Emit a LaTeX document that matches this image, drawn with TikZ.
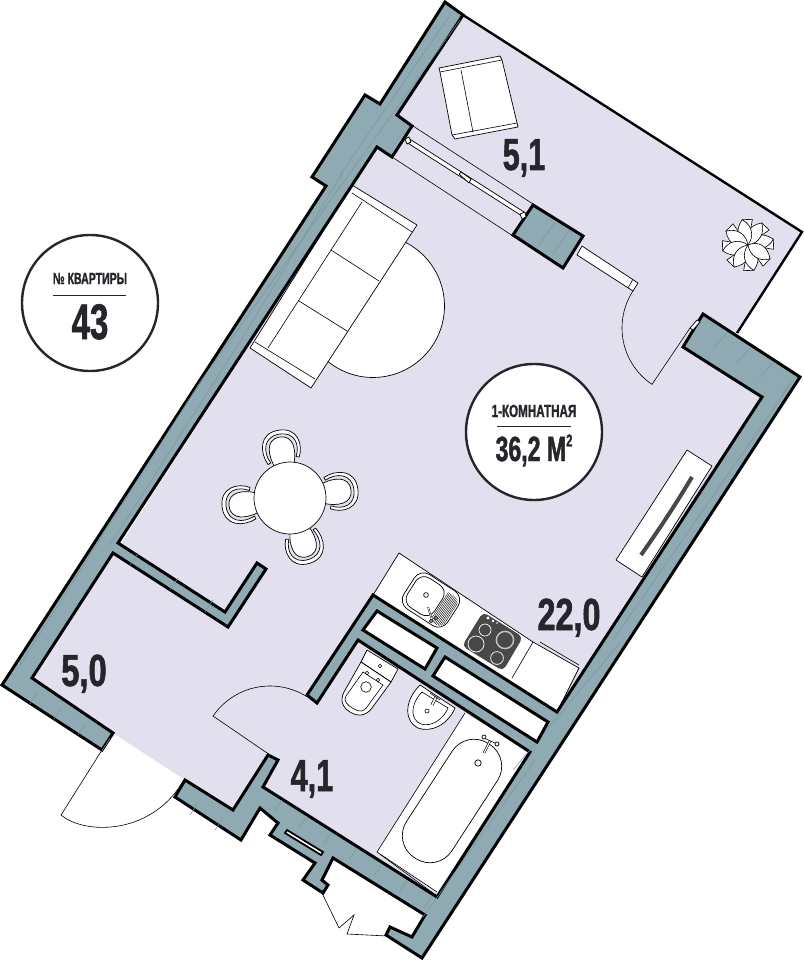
\documentclass[tikz,border=0pt]{standalone}
\usepackage{fontspec}
\setmainfont{Liberation Sans}
\newfontfamily\cond[FakeStretch=0.66,FakeBold=1.2]{Liberation Sans}
\definecolor{wallc}{HTML}{8FAAB2}
\definecolor{hatchc}{HTML}{7A959E}
\definecolor{lav}{HTML}{E2E0EE}
\definecolor{ink}{HTML}{25252B}
\definecolor{hob}{HTML}{484848}
\tikzset{
  wallshape/.style={fill=wallc,draw=black,line width=3pt,line join=miter,miter limit=3},
  hatchline/.style={draw=hatchc,line width=.5pt},
  thinline/.style={draw=black,line width=.6pt},
  whitething/.style={fill=white,draw=black,line width=.7pt,line join=round},
  areatext/.style={font=\cond\bfseries\fontsize{45}{45}\selectfont,text=ink,anchor=base,inner sep=0pt},
  badge/.style={circle,draw=ink,fill=white,line width=2.4pt,minimum size=136pt,inner sep=0pt},
  smalltext/.style={font=\cond\bfseries\fontsize{18}{18}\selectfont,text=ink,anchor=base,inner sep=0pt},
}
\begin{document}
\begin{tikzpicture}[x=1pt,y=-1pt]
\useasboundingbox (0,0) rectangle (803,960);
% floor
\fill[lav] (463,15)--(802,232)--(737,333)--(762,397)--(437,897)--(263,787)--(233,810)--(185,780)--(113,733)--(32,678)--(120,545)--(377,147)--cycle;
% balcony edge
\draw[line width=2.4pt,line join=miter] (463,15)--(802,232)--(737,333);
% rug
\draw[whitething] plot[domain=-64:129,samples=50] ({373+71.5*cos(\x)},{306+71.5*sin(\x)});
% sofa
\draw[whitething] (352,185)--(417,225)--(311,388)--(250,348)--cycle;
\draw[thinline] (352,193)--(412,232) (255,342)--(315,379) (362,202)--(268,348) (331,250)--(379,281) (299,301)--(347,331);
% armchair
\draw[whitething] (439,68)--(500,56)--(502,60)--(518,127)--(455,139)--(452,135)--(440,72)--cycle;
\draw[thinline] (440,72)--(502,60) (452,135)--(517,123) (461,70)--(473,132);
% plant
\foreach \a in {0,45,...,315}{
  \begin{scope}[shift={(748,245)},rotate=\a+13]
    \draw[fill=white,draw=black,line width=.6pt] (0,0)--(26,0)--(24,10)--cycle;
  \end{scope}
}
\foreach \a in {0,45,...,315}{
  \begin{scope}[shift={(748,245)},rotate=\a+13]
    \draw[whitething,line width=.6pt] (0,0) .. controls (6,-9) and (17,-10) .. (26,0) .. controls (18,9) and (7,8) .. (0,0)--cycle;
  \end{scope}
}
% table and chairs
\foreach \cx/\cy/\rr in {281/446/10,342/491/-82,305/548/197,238/505/97}{
  \begin{scope}[shift={(\cx,\cy)},rotate=\rr]
    \draw[whitething] (-16,16) .. controls (-22,3) and (-20,-16) .. (0,-16) .. controls (20,-16) and (22,3) .. (16,14)--(13,13) .. controls (19,2) and (16,-12) .. (0,-12) .. controls (-16,-12) and (-19,3) .. (-13,15)--cycle;
    \draw[whitething] (-10,19) .. controls (-14,8) and (-15,-9) .. (0,-9) .. controls (15,-9) and (14,8) .. (10,19)--cycle;
  \end{scope}
}
\draw[whitething] (290,498) circle (36);
% wardrobe
\draw[whitething] (687,450)--(712,466)--(642,577)--(616,560)--cycle;
\draw[draw=hob,line width=4pt] (692,477) .. controls (674,507) and (660,528) .. (641,555);
% kitchen
\draw[whitething] (399,553)--(533,642)--(579,668)--(557,712)--(373,595)--cycle;
\draw[thinline] (533,642)--(512,678) (540,642)--(579,665);
\fill[hob,rounded corners=5pt] (483,612)--(523,637)--(503,671)--(462,646)--cycle;
\draw[white,line width=.7pt] (485,630) circle (6) (476,644) circle (8) (497,658) circle (6.4);
\draw[white!75!black,line width=1.5pt] (505,640) circle (8.6);
\fill[white] (488,618) circle (1.6) (493,621) circle (1.4) (497,623) circle (.8);
\begin{scope}[shift={(431,600)},rotate=-33]
  \draw[whitething,rounded corners=11pt] (-26,-20.5) rectangle (26,20.5);
  \begin{scope}
    \clip[rounded corners=8pt] (-26,-16) rectangle (25,18);
    \foreach \h in {10.5,12,...,25}{\draw[draw=black,line width=.4pt] (\h,-16) -- (\h,18);}
  \end{scope}
  \draw[whitething,rounded corners=10pt] (-23,-17.5) rectangle (9,17.5);
\end{scope}
\draw[whitething] (426,595) circle (2.4);
\draw[draw=black,line width=1.6pt] (428,607)--(432,620);
\draw[draw=white,line width=.7pt] (428,607)--(432,620);
\draw[whitething] (431,621) circle (1.7) (436,618) circle (1.7);
% bath
\fill[white] (465,713)--(530,752)--(437,892)--(377,852)--cycle;
\draw[thinline] (465,713)--(377,852)--(437,896);
\draw[thinline] (380,854)--(437,892);
\begin{scope}[shift={(452,801)},rotate=-33]
  \draw[whitething,rounded corners=26pt] (-27,-68) rectangle (27,68);
\end{scope}
\draw[draw=black,line width=2.4pt] (490,741)--(484,753);
\draw[draw=white,line width=1.1pt] (490,741)--(484,753);
\draw[thinline] (484,738)--(497,744);
\draw[whitething] (484,737) circle (2) (497,744) circle (2) (478,763) circle (3.2);
% wc
\draw[whitething] (367,650)--(398,669)--(391,682)--(361,662)--cycle;
\draw[whitething] (361,662)--(391,682)--(372,708) .. controls (366,716) and (358,717) .. (350,712) .. controls (342,707) and (340,700) .. (344,692)--cycle;
\draw[thinline] (363,672)--(383,685)--(367,707) .. controls (364,712) and (359,712) .. (354,709) .. controls (347,705) and (343,701) .. (346,696)--cycle;
\draw[thinline] (366,687) circle (5.3) (367,673) circle (1.7) (378,680) circle (1.7) (380,666) circle (1.7);
% basin
\draw[whitething] (420,685)--(455,708) .. controls (448,725) and (430,733) .. (418,728) .. controls (405,722) and (403,702) .. (420,685)--cycle;
\draw[thinline] (422,692)--(448,708) .. controls (443,720) and (431,727) .. (421,724) .. controls (411,720) and (409,706) .. (422,692)--cycle;
\draw[draw=black,line width=3pt] (436,697)--(432,705);
\draw[draw=white,line width=1.6pt] (436,697)--(432,705);
\draw[thinline] (430,693)--(440,700) (427,711) circle (2);
% walls
\draw[wallshape] (445,2)--(380,104)--(365,95)--(312,177)--(326,186)--(2,685)--(102,750)--(113,733)--(32,678)--(113,553)--(228,627)--(266,569)--(257,563)--(225,612)--(118,543)--(377,147)--(392,157)--(412,126)--(397,115)--(463,15)--cycle;
\draw[wallshape] (533,205)--(583,236)--(563,268)--(513,235)--cycle;
\draw[wallshape] (703,314)--(800,377)--(422,958)--(386,935)--(390,927)--(412,937)--(425,915)--(333,858)--(322,880)--(328,885)--(323,893)--(303,880)--(315,863)--(270,835)--(278,823)--(260,808)--(241,840)--(175,797)--(185,780)--(233,810)--(268,755)--(278,760)--(263,787)--(437,897)--(530,752)--(358,640)--(317,703)--(307,695)--(373,595)--(557,712)--(762,397)--(683,347)--cycle;
% hatching
\draw[hatchline] (452,12)--(340,175) (460,20)--(345,180)--(200,382)--(20,665) (343,172)--(243,337)--(110,545) (790,385)--(613,640) (620,643)--(513,770) (535,760)--(423,917);
\draw[hatchline] (539,245)--(555,222) (553,254)--(569,231);
\foreach \i in {0,1,2,3}{
  \draw[hatchline] ({713+23*\i},{348+15*\i})--({728+23*\i},{332+15*\i});
  \draw[hatchline] ({30+24*\i},{704+15.5*\i})--({38+24*\i},{692+15.5*\i});
}
\foreach \i in {0,1,...,6}{
  \draw[hatchline] ({282+25*\i},{800+16*\i})--({274+25*\i},{812+16*\i});
}
\draw[hatchline] (130,565)--(138,553) (170,590)--(178,578) (205,612)--(213,600) (190,815)--(198,803) (215,830)--(223,818);
% shafts
\draw[fill=white,draw=black,line width=3pt] (377,611)--(437,648)--(425,669)--(363,630)--cycle;
\draw[fill=white,draw=black,line width=3pt] (445,657)--(548,722)--(537,742)--(433,676)--cycle;
\draw[fill=white,draw=black,line width=1.8pt] (287,830)--(323,852)--(321,855)--(285,833)--cycle;
% windows
\draw[thinline] (413,126)--(533,204) (392,157)--(513,236);
\draw[whitething] (408,138)--(524,212)--(522,216)--(406,142)--cycle;
\draw[whitething] (405,139)--(409,137)--(411,142)--(407,144)--cycle;
\draw[whitething] (459,174)--(461,172)--(471,179)--(469,183)--cycle;
\draw[whitething] (520,214)--(525,212)--(526,217)--(522,219)--cycle;
\draw[whitething] (582,246)--(638,283)--(633,291)--(577,255)--cycle;
\draw[thinline] (633,279)--(628,288);
% doors
\draw[thinline] plot[domain=213:124,samples=40] ({690+68*cos(\x)},{328+68*sin(\x)}) -- (690,328);
\draw[whitething] (690,328)--(697,320)--(700,322)--(693,330)--cycle;
\draw[thinline] (270,755)--(213,716) plot[domain=214:302,samples=40] ({270+69*cos(\x)},{755+69*sin(\x)});
\draw[thinline] (102,750)--(61,815) .. controls (85,835) and (150,835) .. (182,783);
\draw[thinline] (322,893)--(339,928)--(354,915)--(347,934)--(387,936);
% labels
\node[areatext] (a1) at (524,170) {\scalebox{1.03}[1]{5,1}};
\node[areatext] (a2) at (84,686) {\scalebox{1.1}[1]{5,0}};
\node[areatext] (a3) at (312,791) {\scalebox{1.03}[1]{4,1}};
\node[areatext] (a4) at (569,630) {\scalebox{1.09}[1]{22,0}};
% badges
\node[badge] (b1) at (90,303) {};
\node[smalltext,font=\cond\bfseries\fontsize{16}{17}\selectfont] (t1) at (90,284) {№ КВАРТИРЫ};
\draw[ink,line width=.7pt] (53,295)--(126,295);
\node[areatext,font=\cond\bfseries\fontsize{50}{50}\selectfont] (t2) at (90,339) {43};
\node[badge] (b2) at (534,432) {};
\node[smalltext,font=\cond\bfseries\fontsize{17.6}{18}\selectfont] (t3) at (534,417) {1-КОМНАТНАЯ};
\draw[ink,line width=.7pt] (497,426)--(571,426);
\node[areatext,font=\cond\bfseries\fontsize{35}{35}\selectfont] (t4) at (534,461) {36,2 М\raisebox{.42em}{\fontsize{17}{17}\selectfont 2}};
\end{tikzpicture}
\end{document}
